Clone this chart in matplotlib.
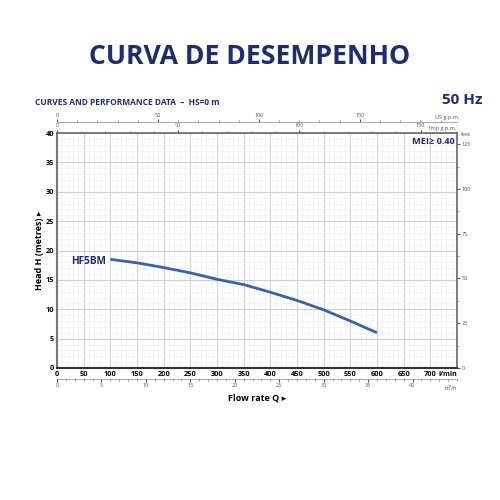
import matplotlib
matplotlib.use("Agg")
import matplotlib.pyplot as plt
import numpy as np
from matplotlib.ticker import MultipleLocator, FixedLocator

# data
flow_lmin = [100, 150, 200, 250, 300, 350, 400, 450, 500, 550, 600]
head_m = [18.5, 17.9, 17.1, 16.2, 15.1, 14.2, 12.9, 11.5, 9.9, 8.0, 6.0]
model_name = "HF5BM"
x_ticks = [0, 50, 100, 150, 200, 250, 300, 350, 400, 450, 500, 550, 600, 650, 700]
y_ticks = [0, 5, 10, 15, 20, 25, 30, 35, 40]
m3h_ticks = [0, 5, 10, 15, 20, 25, 30, 35, 40]
usgpm_ticks = [0, 50, 100, 150]
impgpm_ticks = [0, 50, 100, 150]
feet_ticks = [0, 25, 50, 75, 100, 125]

NAVY = "#1f2d6b"
BLUE = "#3a62a7"
FONT = "Open Sans"
plt.rcParams['font.family'] = [FONT, 'DejaVu Sans']

L_PER_M3H = 1000 / 60
L_PER_US = 3.78541
L_PER_IMP = 4.54609
M_PER_FT = 0.3048

fig = plt.figure(figsize=(5, 5), dpi=100)
ax = fig.add_axes([0.114, 0.264, 0.80, 0.470])
ax.set_xlim(0, 750)
ax.set_ylim(0, 40)

# grid
ax.xaxis.set_major_locator(FixedLocator(x_ticks))
ax.xaxis.set_minor_locator(MultipleLocator(10))
ax.yaxis.set_major_locator(FixedLocator(y_ticks))
ax.yaxis.set_minor_locator(MultipleLocator(1))
ax.grid(which="major", color="#cfcfcf", lw=0.8)
ax.grid(which="minor", color="#f1f1f1", lw=0.5)
ax.set_axisbelow(True)

ax.plot(flow_lmin, head_m, color=BLUE, lw=2, solid_capstyle="butt", zorder=3)
ax.text(flow_lmin[0] - 9, head_m[0] - 0.3, model_name, color=NAVY, fontsize=7.2,
        fontweight="bold", ha="right", va="center")
ax.text(745, 39.3, "MEI≥ 0.40", color=NAVY, fontsize=6.6, fontweight="bold",
        ha="right", va="top")

ax.spines["left"].set_linewidth(1.5)
ax.spines["left"].set_color("#777777")
ax.spines["bottom"].set_linewidth(1.5)
ax.spines["bottom"].set_color("#333333")
for s in ["top", "right"]:
    ax.spines[s].set_linewidth(1.2)
    ax.spines[s].set_color("#666666")

ax.tick_params(which="both", length=0)
ax.tick_params(axis="x", labelsize=5.3, pad=2)
ax.tick_params(axis="y", labelsize=5.3, pad=2)
for t in ax.get_xticklabels() + ax.get_yticklabels():
    t.set_fontweight("bold")
ax.text(1.0, -0.012, "l/min", transform=ax.transAxes, fontsize=5, fontweight="bold",
        ha="right", va="top")

ax.set_ylabel("Head H (metres) ▸", fontsize=6.5, fontweight="bold", labelpad=1)
ax.set_xlabel("Flow rate Q ▸", fontsize=6.5, fontweight="bold", labelpad=11)

# bottom m3/h axis
ax_m3 = ax.secondary_xaxis(-0.045, functions=(lambda x: x / L_PER_M3H, lambda x: x * L_PER_M3H))
ax_m3.xaxis.set_major_locator(FixedLocator(m3h_ticks))
ax_m3.xaxis.set_minor_locator(MultipleLocator(1))
ax_m3.tick_params(which="major", length=2.5, labelsize=4, colors="#555555", pad=1)
ax_m3.tick_params(which="minor", length=1.5, colors="#888888")
ax_m3.spines["bottom"].set_color("#999999")
ax_m3.spines["bottom"].set_linewidth(0.6)
ax.text(1.0, -0.075, "m³/h", transform=ax.transAxes, fontsize=4, color="#555555",
        ha="right", va="top")

# top Imp gpm axis (on top spine)
ax_imp = ax.secondary_xaxis("top", functions=(lambda x: x / L_PER_IMP, lambda x: x * L_PER_IMP))
ax_imp.xaxis.set_major_locator(FixedLocator(impgpm_ticks))
ax_imp.xaxis.set_minor_locator(MultipleLocator(10))
ax_imp.tick_params(which="major", length=2.5, labelsize=4, colors="#555555", pad=1)
ax_imp.tick_params(which="minor", length=1.5, colors="#888888")
ax_imp.spines["top"].set_visible(False)
ax.text(0.965, 1.01, "Imp g.p.m.", transform=ax.transAxes, fontsize=4, color="#555555",
        ha="center", va="bottom")

# top US gpm axis
ax_us = ax.secondary_xaxis(1.045, functions=(lambda x: x / L_PER_US, lambda x: x * L_PER_US))
ax_us.xaxis.set_major_locator(FixedLocator(usgpm_ticks))
ax_us.xaxis.set_minor_locator(MultipleLocator(10))
ax_us.tick_params(which="major", length=2.5, labelsize=4, colors="#555555", pad=1)
ax_us.tick_params(which="minor", length=1.5, colors="#888888")
ax_us.spines["top"].set_color("#999999")
ax_us.spines["top"].set_linewidth(0.6)
ax.text(0.975, 1.055, "US g.p.m.", transform=ax.transAxes, fontsize=4, color="#555555",
        ha="center", va="bottom")

# right feet axis
ax_ft = ax.secondary_yaxis(1.0, functions=(lambda y: y / M_PER_FT, lambda y: y * M_PER_FT))
ax_ft.yaxis.set_major_locator(FixedLocator(feet_ticks))
ax_ft.yaxis.set_minor_locator(MultipleLocator(12.5))
ax_ft.tick_params(which="major", length=2.5, labelsize=4, colors="#555555", pad=1)
ax_ft.tick_params(which="minor", length=1.5, colors="#888888")
ax_ft.spines["right"].set_visible(False)
ax.text(1.01, 0.995, "feet", transform=ax.transAxes, fontsize=4, color="#555555",
        ha="left", va="center")

fig.text(0.5, 0.885, "CURVA DE DESEMPENHO", fontsize=19.2, fontweight="bold", color=NAVY,
         ha="center", va="center")
fig.text(0.07, 0.795, "CURVES AND PERFORMANCE DATA  –  HS=0 m", fontsize=6,
         fontweight="bold", color=NAVY, ha="left", va="center")
fig.text(0.965, 0.8, "50 Hz", fontsize=11, fontweight="bold", color=NAVY,
         ha="right", va="center")

fig.savefig("out.png", dpi=100, facecolor="white")
